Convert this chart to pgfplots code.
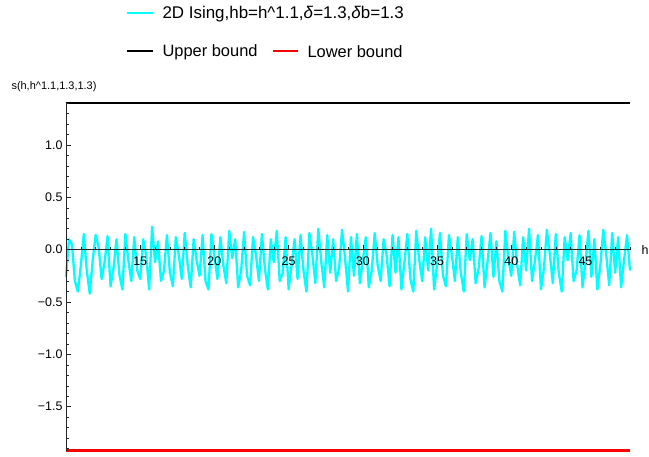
\documentclass[border=0pt]{standalone}
\usepackage{pgfplots}
\pgfplotsset{compat=1.18}
\usepackage{fontspec}
\setmainfont{Liberation Sans}
\definecolor{cyanrgb}{RGB}{0,255,255}
\definecolor{redrgb}{RGB}{255,0,0}
\begin{document}
\begin{tikzpicture}
\path[use as bounding box] (-66bp,-6.3bp) rectangle (583bp,450.7bp);
\begin{axis}[
  scale only axis, width=564bp, height=348bp,
  xmin=10, xmax=48, ymin=-1.92, ymax=1.404,
  axis x line=middle, axis y line=left,
  axis line style={-, black!85, line width=0.6bp},
  axis on top,
  clip=false,
  xtick={15,20,25,30,35,40,45},
  xticklabels={15,20,25,30,35,40,45},
  minor xtick={10,11,...,48},
  ytick={-1.5,-1,-0.5,0,0.5,1},
  yticklabels={−1.5,−1.0,−0.5,0.0,0.5,1.0},
  minor ytick={-1.9,-1.8,-1.7,-1.6,-1.4,-1.3,-1.2,-1.1,-0.9,-0.8,-0.7,-0.6,-0.4,-0.3,-0.2,-0.1,0.1,0.2,0.3,0.4,0.6,0.7,0.8,0.9,1.1,1.2,1.3,1.4},
  tick align=inside,
  major tick length=5bp, minor tick length=3bp,
  tick style={black!85, line width=0.5bp},
  tick label style={font=\fontsize{12.5}{14}\selectfont, text=black},
  xticklabel style={yshift=-4bp},
]
\addplot[cyanrgb, line width=2.3bp, line join=round] coordinates {
(10.0,-0.26) (10.2,0.10) (10.4,0.05) (10.6,-0.30) (10.8,-0.40)
(11.0,-0.15) (11.2,0.15) (11.4,-0.20) (11.6,-0.42) (11.8,-0.10)
(12.0,0.14) (12.2,0.02) (12.4,-0.28) (12.6,-0.12) (12.8,0.13)
(13.0,-0.35) (13.2,-0.18) (13.4,0.10) (13.6,-0.24) (13.8,-0.38)
(14.0,0.15) (14.2,-0.10) (14.4,-0.30) (14.6,0.12) (14.8,-0.20)
(15.0,-0.28) (15.2,0.10) (15.4,-0.05) (15.6,-0.38) (15.8,0.22)
(16.0,-0.12) (16.2,0.08) (16.4,-0.30) (16.6,-0.20) (16.8,0.14)
(17.0,-0.22) (17.2,-0.35) (17.4,0.12) (17.6,-0.05) (17.8,-0.28)
(18.0,0.16) (18.2,-0.15) (18.4,-0.36) (18.6,0.10) (18.8,-0.10)
(19.0,-0.25) (19.2,0.14) (19.4,-0.30) (19.6,-0.38) (19.8,0.15)
(20.0,-0.06) (20.2,-0.28) (20.4,0.12) (20.6,-0.15) (20.8,-0.32)
(21.0,0.18) (21.2,-0.08) (21.4,0.10) (21.6,-0.36) (21.8,-0.20)
(22.0,0.17) (22.2,-0.25) (22.4,-0.34) (22.6,0.12) (22.8,-0.05)
(23.0,-0.30) (23.2,0.15) (23.4,-0.18) (23.6,-0.38) (23.8,0.10)
(24.0,-0.12) (24.2,0.18) (24.4,-0.30) (24.6,-0.22) (24.8,0.12)
(25.0,-0.38) (25.2,-0.15) (25.4,0.10) (25.6,-0.28) (25.8,0.14)
(26.0,-0.20) (26.2,-0.40) (26.4,0.16) (26.6,-0.05) (26.8,-0.32)
(27.0,0.20) (27.2,-0.12) (27.4,-0.36) (27.6,0.14) (27.8,-0.22)
(28.0,0.10) (28.2,-0.30) (28.4,-0.18) (28.6,0.19) (28.8,-0.08)
(29.0,-0.40) (29.2,0.12) (29.4,-0.25) (29.6,0.15) (29.8,-0.32)
(30.0,-0.10) (30.2,0.12) (30.4,-0.36) (30.6,-0.20) (30.8,0.16)
(31.0,-0.15) (31.2,-0.30) (31.4,0.10) (31.6,-0.05) (31.8,-0.35)
(32.0,0.14) (32.2,-0.22) (32.4,0.12) (32.6,-0.38) (32.8,-0.12)
(33.0,0.15) (33.2,-0.28) (33.4,-0.40) (33.6,0.18) (33.8,-0.10)
(34.0,-0.30) (34.2,0.12) (34.4,-0.20) (34.6,0.20) (34.8,-0.38)
(35.0,-0.15) (35.2,0.16) (35.4,-0.25) (35.6,-0.35) (35.8,0.14)
(36.0,-0.05) (36.2,-0.30) (36.4,0.12) (36.6,-0.22) (36.8,-0.40)
(37.0,0.15) (37.2,-0.10) (37.4,0.10) (37.6,-0.32) (37.8,-0.18)
(38.0,0.13) (38.2,-0.36) (38.4,-0.12) (38.6,0.16) (38.8,-0.26)
(39.0,0.08) (39.2,-0.30) (39.4,-0.40) (39.6,0.18) (39.8,-0.08)
(40.0,-0.25) (40.2,0.17) (40.4,-0.15) (40.6,-0.34) (40.8,0.12)
(41.0,-0.20) (41.2,0.20) (41.4,-0.30) (41.6,-0.10) (41.8,0.14)
(42.0,-0.38) (42.2,-0.18) (42.4,0.19) (42.6,-0.05) (42.8,-0.32)
(43.0,0.15) (43.2,-0.22) (43.4,-0.40) (43.6,0.12) (43.8,-0.10)
(44.0,0.16) (44.2,-0.30) (44.4,-0.20) (44.6,0.14) (44.8,-0.36)
(45.0,-0.12) (45.2,0.18) (45.4,-0.26) (45.6,0.10) (45.8,-0.38)
(46.0,-0.15) (46.2,0.19) (46.4,-0.05) (46.6,-0.34) (46.8,0.16)
(47.0,-0.22) (47.2,0.12) (47.4,-0.36) (47.6,-0.10) (47.8,0.14)
(48.0,-0.20)
};
\addplot[black, line width=2bp] coordinates {(10,1.404) (48,1.404)};
\addplot[redrgb, line width=2.5bp] coordinates {(10,-1.92) (48,-1.92)};
\node[anchor=west, font=\fontsize{12.5}{14}\selectfont, text=black] at (axis cs:48,0) [xshift=8bp] {h};
\node[anchor=south, font=\fontsize{11}{13}\selectfont, text=black] at (rel axis cs:0,1) [xshift=-12bp, yshift=7bp] {s(h,h\textasciicircum 1.1,1.3,1.3)};
\end{axis}
\draw[cyanrgb, line width=2bp] (61bp,437.2bp) -- (87bp,437.2bp);
\node[anchor=west, font=\fontsize{17}{19}\selectfont] at (93bp,436.7bp) {2D Ising,hb=h\textasciicircum 1.1,\textit{δ}=1.3,\textit{δ}b=1.3};
\draw[black, line width=2bp] (61bp,399.7bp) -- (87bp,399.7bp);
\node[anchor=west, font=\fontsize{16.5}{19}\selectfont] at (93bp,398.7bp) {Upper bound};
\draw[redrgb, line width=2bp] (207bp,399.7bp) -- (232bp,399.7bp);
\node[anchor=west, font=\fontsize{16.5}{19}\selectfont] at (238bp,398.7bp) {Lower bound};
\end{tikzpicture}
\end{document}
